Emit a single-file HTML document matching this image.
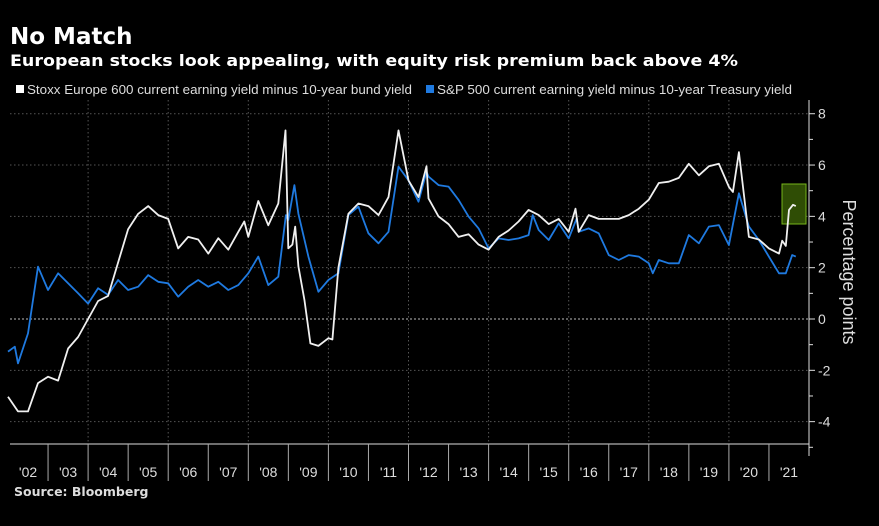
<!DOCTYPE html>
<html><head><meta charset="utf-8"><style>
body{margin:0;background:#000;width:879px;height:521px;overflow:hidden;font-family:"Liberation Sans",sans-serif}
</style></head><body>
<svg width="879" height="521" viewBox="0 0 879 521">
<rect width="879" height="521" fill="#000"/>
<text x="10" y="44" fill="#fff" font-size="23" font-weight="bold" font-family="DejaVu Sans, sans-serif">No Match</text>
<text x="10" y="66" fill="#fff" font-size="16" font-weight="bold" font-family="DejaVu Sans, sans-serif" textLength="728" lengthAdjust="spacingAndGlyphs">European stocks look appealing, with equity risk premium back above 4%</text>
<g>
<rect x="16" y="85" width="8" height="8" fill="#fff"/>
<text x="27" y="94" fill="#ddd" font-size="12.5" textLength="385" lengthAdjust="spacingAndGlyphs">Stoxx Europe 600 current earning yield minus 10-year bund yield</text>
<rect x="426" y="85" width="8" height="8" fill="#1f7ae0"/>
<text x="437" y="94" fill="#ddd" font-size="12.5" textLength="355" lengthAdjust="spacingAndGlyphs">S&amp;P 500 current earning yield minus 10-year Treasury yield</text>
</g>
<g id="grid"></g>
<g id="axes"></g>
<rect x="782" y="184" width="24" height="40" fill="#2f4d05" stroke="#76b51a" stroke-width="1"/>
<g id="series"></g>
<text transform="translate(843,272) rotate(90)" text-anchor="middle" fill="#ddd" font-size="18">Percentage points</text>
<text x="14" y="496" fill="#ddd" font-size="12.5" font-weight="bold" font-family="DejaVu Sans, sans-serif">Source: Bloomberg</text>
</svg>
<script>
const whiteDates=[2002,2002.25,2002.5,2002.75,2003,2003.25,2003.5,2003.75,2004,2004.25,2004.5,2004.75,2005,2005.25,2005.5,2005.75,2006,2006.25,2006.5,2006.75,2007,2007.25,2007.5,2007.75,2007.9,2008,2008.25,2008.5,2008.75,2008.93,2009,2009.1,2009.17,2009.25,2009.4,2009.55,2009.75,2010,2010.1,2010.25,2010.5,2010.75,2011,2011.25,2011.5,2011.75,2012,2012.25,2012.45,2012.5,2012.75,2013,2013.25,2013.5,2013.75,2014,2014.25,2014.5,2014.75,2015,2015.25,2015.5,2015.75,2016,2016.17,2016.25,2016.5,2016.75,2017,2017.25,2017.5,2017.75,2018,2018.25,2018.5,2018.75,2019,2019.25,2019.5,2019.75,2020,2020.1,2020.25,2020.5,2020.75,2021,2021.25,2021.33,2021.42,2021.5,2021.6,2021.67];
const whiteValues=[-3.03,-3.6,-3.6,-2.5,-2.25,-2.4,-1.15,-0.7,0,0.7,0.9,2.2,3.5,4.1,4.4,4.05,3.9,2.75,3.2,3.1,2.55,3.15,2.7,3.4,3.8,3.2,4.6,3.65,4.5,7.35,2.75,2.9,3.6,2.05,0.75,-0.95,-1.05,-0.75,-0.8,2.0,4.1,4.5,4.4,4.05,4.75,7.35,5.4,4.75,5.95,4.7,4.0,3.7,3.2,3.3,2.9,2.7,3.2,3.45,3.8,4.25,4.05,3.7,3.9,3.4,4.3,3.4,4.05,3.9,3.9,3.9,4.05,4.3,4.65,5.3,5.35,5.5,6.05,5.6,5.95,6.05,5.15,4.95,6.5,3.2,3.1,2.75,2.55,3.05,2.85,4.25,4.45,4.4];
const blueDates=[2002,2002.17,2002.25,2002.5,2002.75,2003,2003.25,2003.5,2003.75,2004,2004.25,2004.5,2004.75,2005,2005.25,2005.5,2005.75,2006,2006.25,2006.5,2006.75,2007,2007.25,2007.5,2007.75,2008,2008.25,2008.5,2008.75,2008.94,2009,2009.15,2009.25,2009.5,2009.75,2010,2010.25,2010.5,2010.75,2011,2011.25,2011.5,2011.75,2012,2012.25,2012.45,2012.5,2012.75,2013,2013.25,2013.5,2013.75,2014,2014.25,2014.5,2014.75,2015,2015.1,2015.25,2015.5,2015.75,2016,2016.2,2016.25,2016.5,2016.75,2017,2017.25,2017.5,2017.75,2018,2018.1,2018.25,2018.5,2018.75,2019,2019.25,2019.5,2019.75,2020,2020.25,2020.5,2020.75,2021,2021.25,2021.42,2021.58,2021.67];
const blueValues=[-1.27,-1.08,-1.73,-0.56,2.04,1.13,1.78,1.39,1.0,0.6,1.2,0.94,1.52,1.13,1.26,1.71,1.45,1.39,0.87,1.26,1.52,1.26,1.45,1.13,1.32,1.78,2.43,1.32,1.65,4.05,3.86,5.22,4.1,2.43,1.06,1.52,1.78,4.05,4.38,3.34,2.95,3.4,5.94,5.4,4.57,5.74,5.55,5.22,5.16,4.64,3.99,3.53,2.75,3.14,3.08,3.14,3.27,4.05,3.47,3.08,3.73,3.14,3.92,3.4,3.53,3.34,2.49,2.3,2.49,2.43,2.17,1.78,2.3,2.17,2.17,3.27,2.95,3.6,3.66,2.88,4.9,3.6,3.08,2.43,1.78,1.78,2.49,2.43];
const yTicks=[8,6,4,2,0,-2,-4];
const yearLabels=["'02","'03","'04","'05","'06","'07","'08","'09","'10","'11","'12","'13","'14","'15","'16","'17","'18","'19","'20","'21"];
const ns="http://www.w3.org/2000/svg";
const X=d=>8+(d-2002)*40.05;
const Y=v=>319-v*25.66;
function mk(tag,attrs,parent){const e=document.createElementNS(ns,tag);for(const k in attrs)e.setAttribute(k,attrs[k]);parent.appendChild(e);return e;}
const grid=document.getElementById('grid'),axes=document.getElementById('axes'),series=document.getElementById('series');
for(let v=-5;v<=8;v++){
  if(v%2===0&&v>=-4){
    const l=mk('line',{x1:10,x2:809,y1:Y(v),y2:Y(v),stroke:v===0?'#bbb':'#555','stroke-dasharray':v===0?'2,2':'1.5,2.5','stroke-width':1},grid);
    
    
  }
  const t=mk('line',{x1:809,x2:v%2===0?815:813,y1:Y(v),y2:Y(v),stroke:'#ddd'},axes);
  
  
}
yTicks.forEach(v=>{
  const t=mk('text',{x:818,y:Y(v)+5,fill:'#ddd','font-size':14},axes);
  t.textContent=String(v);
  
  
});
for(let yr=2004;yr<=2020;yr+=2){
  const l=mk('line',{x1:X(yr),x2:X(yr),y1:100,y2:444,stroke:'#555','stroke-dasharray':'1.5,2.5'},grid);
  
  
}
const yl=mk('line',{x1:809,x2:809,y1:100,y2:456,stroke:'#ddd'},axes);


const xl=mk('line',{x1:10,x2:809,y1:444,y2:444,stroke:'#ddd'},axes);


yearLabels.forEach((s,i)=>{
  const d=2002+i;
  if(i>0){const t=mk('line',{x1:X(d),x2:X(d),y1:444,y2:481,stroke:'#aaa'},axes);
  
  }
  const t=mk('text',{x:X(d+0.5),y:477,fill:'#ddd','font-size':14,'text-anchor':'middle'},axes);
  t.textContent=s;
  
  
});
function path(dates,vals,color,name){
  const p=mk('path',{d:dates.map((d,i)=>(i?'L':'M')+X(d).toFixed(1)+','+Y(vals[i]).toFixed(1)).join(''),fill:'none',stroke:color,'stroke-width':1.8,'stroke-linejoin':'round'},series);
  
  
}
path(blueDates,blueValues,'#1f7ae0','sp500-line');
path(whiteDates,whiteValues,'#f0f0f0','stoxx-line');
</script>
</body></html>
